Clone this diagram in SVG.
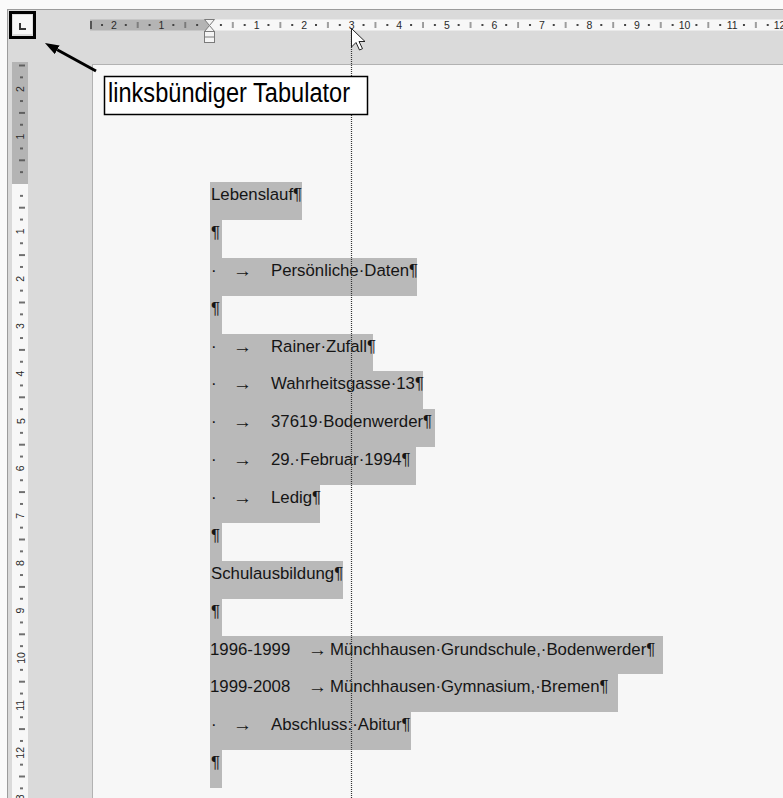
<svg xmlns="http://www.w3.org/2000/svg" width="783" height="798" viewBox="0 0 783 798">
<style>
.doc{font-family:"Liberation Sans",Arial,sans-serif;font-size:16.8px;fill:#151515}
.arr{font-family:"Liberation Sans",Arial,sans-serif;font-size:19px;font-weight:bold;fill:#151515}
.hl{fill:#b9b9b9}
.rnum{font-family:"Liberation Sans",Arial,sans-serif;font-size:10.5px;fill:#2a2a2a;text-anchor:middle}
.lbl{font-family:"Liberation Sans",Arial,sans-serif;font-size:27px;fill:#000}
</style>
<defs>
<pattern id="hticks" patternUnits="userSpaceOnUse" x="209" y="0" width="47.55" height="798">
<rect x="10.9" y="24" width="2" height="2" fill="#444"/>
<rect x="23.3" y="22" width="1" height="6" fill="#444"/>
<rect x="34.7" y="24" width="2" height="2" fill="#444"/>
</pattern>
<pattern id="vticks" patternUnits="userSpaceOnUse" x="0" y="184" width="783" height="47.4">
<rect x="20" y="11.1" width="3" height="1.5" fill="#444"/>
<rect x="19" y="22.95" width="6" height="1.5" fill="#444"/>
<rect x="20" y="34.8" width="3" height="1.5" fill="#444"/>
</pattern>
<marker id="ah" markerUnits="userSpaceOnUse" markerWidth="16" markerHeight="12" refX="0" refY="5" orient="auto">
<path d="M0,0 L14,5 L0,10 z" fill="#000"/>
</marker>
</defs>

<!-- window background -->
<rect x="0" y="0" width="783" height="798" fill="#fafafa"/>
<rect x="8" y="10" width="775" height="788" fill="#dadada"/>
<line x1="7" y1="9.5" x2="783" y2="9.5" stroke="#9c9c9c"/>
<line x1="7.5" y1="9" x2="7.5" y2="798" stroke="#9c9c9c"/>
<rect x="93" y="65" width="690" height="733" fill="#f7f7f7"/>
<line x1="92" y1="64.5" x2="783" y2="64.5" stroke="#b2b2b2"/>
<line x1="92.5" y1="64" x2="92.5" y2="798" stroke="#b2b2b2"/>

<!-- horizontal ruler -->
<g id="ruler-h">
<rect x="90" y="19.5" width="119" height="11" fill="#b4b4b4"/>
<rect x="209" y="19.5" width="574" height="11" fill="#f7f7f7"/>
<rect x="90" y="19" width="693" height="12" fill="url(#hticks)"/>
<rect x="90" y="21" width="2" height="8" fill="#555"/>
<text class="rnum" x="113.9" y="29">2</text>
<text class="rnum" x="161.5" y="29">1</text>
<text class="rnum" x="256.6" y="29">1</text>
<text class="rnum" x="304.1" y="29">2</text>
<text class="rnum" x="351.7" y="29">3</text>
<text class="rnum" x="399.2" y="29">4</text>
<text class="rnum" x="446.8" y="29">5</text>
<text class="rnum" x="494.3" y="29">6</text>
<text class="rnum" x="541.9" y="29">7</text>
<text class="rnum" x="589.4" y="29">8</text>
<text class="rnum" x="637" y="29">9</text>
<text class="rnum" x="684.5" y="29">10</text>
<text class="rnum" x="732.1" y="29">11</text>
<text class="rnum" x="779.6" y="29">12</text>
<g id="indent-marker" fill="#f4f4f4" stroke="#7a7a7a" stroke-width="1">
<polygon points="204.5,19.5 214.5,19.5 209.5,25.5"/>
<polygon points="209.5,25.5 204.5,31.5 214.5,31.5"/>
<rect x="204.5" y="31.5" width="10" height="11"/>
<line x1="204.5" y1="37" x2="214.5" y2="37"/>
</g>
</g>

<!-- vertical ruler -->
<g id="ruler-v">
<rect x="12" y="62" width="16" height="122" fill="#b4b4b4"/>
<rect x="12" y="184" width="16" height="614" fill="#f7f7f7"/>
<rect x="12" y="62" width="16" height="736" fill="url(#vticks)"/>
<g class="rnum">
<text x="21" y="92.7" transform="rotate(-90 21 89.2)">2</text>
<text x="21" y="140.1" transform="rotate(-90 21 136.6)">1</text>
<text x="21" y="234.9" transform="rotate(-90 21 231.4)">1</text>
<text x="21" y="282.3" transform="rotate(-90 21 278.8)">2</text>
<text x="21" y="329.7" transform="rotate(-90 21 326.2)">3</text>
<text x="21" y="377.1" transform="rotate(-90 21 373.6)">4</text>
<text x="21" y="424.5" transform="rotate(-90 21 421)">5</text>
<text x="21" y="471.9" transform="rotate(-90 21 468.4)">6</text>
<text x="21" y="519.3" transform="rotate(-90 21 515.8)">7</text>
<text x="21" y="566.7" transform="rotate(-90 21 563.2)">8</text>
<text x="21" y="614.1" transform="rotate(-90 21 610.6)">9</text>
<text x="21" y="661.5" transform="rotate(-90 21 658)">10</text>
<text x="21" y="708.9" transform="rotate(-90 21 705.4)">11</text>
<text x="21" y="756.3" transform="rotate(-90 21 752.8)">12</text>
<text x="21" y="803.7" transform="rotate(-90 21 800.2)">13</text>
</g>
</g>

<!-- tab selector -->
<g id="tab-selector">
<rect x="10.5" y="12.5" width="24" height="25" fill="#dcdcdc" stroke="#000" stroke-width="3"/>
<rect x="13" y="15" width="19" height="19" fill="#f6f6f6"/>
<polyline points="20,23 20,29 26,29" fill="none" stroke="#333" stroke-width="2"/>
</g>

<!-- document highlights -->
<g id="highlights">
<rect class="hl" x="210" y="182" width="92" height="38"/>
<rect class="hl" x="210" y="220" width="12" height="38"/>
<rect class="hl" x="210" y="258" width="207" height="38"/>
<rect class="hl" x="210" y="296" width="12" height="38"/>
<rect class="hl" x="210" y="334" width="163" height="37"/>
<rect class="hl" x="210" y="371" width="213" height="38"/>
<rect class="hl" x="210" y="409" width="225" height="38"/>
<rect class="hl" x="210" y="447" width="206" height="38"/>
<rect class="hl" x="210" y="485" width="110" height="38"/>
<rect class="hl" x="210" y="523" width="12" height="38"/>
<rect class="hl" x="210" y="561" width="133" height="38"/>
<rect class="hl" x="210" y="599" width="12" height="37"/>
<rect class="hl" x="210" y="636" width="453" height="38"/>
<rect class="hl" x="210" y="674" width="408" height="38"/>
<rect class="hl" x="210" y="712" width="201" height="38"/>
<rect class="hl" x="210" y="750" width="12" height="38"/>
</g>

<!-- document text -->
<g id="line-01"><text class="doc" x="211" y="200">Lebenslauf¶</text></g>
<g id="line-02"><text class="doc" x="211" y="238">¶</text></g>
<g id="line-03"><text class="doc" x="211" y="276">·</text><text class="arr" x="233" y="277">→</text><text class="doc" x="271" y="276">Persönliche·Daten¶</text></g>
<g id="line-04"><text class="doc" x="211" y="314">¶</text></g>
<g id="line-05"><text class="doc" x="211" y="351.5">·</text><text class="arr" x="233" y="352.5">→</text><text class="doc" x="271" y="351.5">Rainer·Zufall¶</text></g>
<g id="line-06"><text class="doc" x="211" y="389">·</text><text class="arr" x="233" y="390">→</text><text class="doc" x="271" y="389">Wahrheitsgasse·13¶</text></g>
<g id="line-07"><text class="doc" x="211" y="427">·</text><text class="arr" x="233" y="428">→</text><text class="doc" x="271" y="427">37619·Bodenwerder¶</text></g>
<g id="line-08"><text class="doc" x="211" y="465">·</text><text class="arr" x="233" y="466">→</text><text class="doc" x="271" y="465">29.·Februar·1994¶</text></g>
<g id="line-09"><text class="doc" x="211" y="503">·</text><text class="arr" x="233" y="504">→</text><text class="doc" x="271" y="503">Ledig¶</text></g>
<g id="line-10"><text class="doc" x="211" y="541">¶</text></g>
<g id="line-11"><text class="doc" x="211" y="579">Schulausbildung¶</text></g>
<g id="line-12"><text class="doc" x="211" y="617">¶</text></g>
<g id="line-13"><text class="doc" x="210" y="654.5">1996-1999</text><text class="arr" x="308" y="655.5">→</text><text class="doc" x="330" y="654.5">Münchhausen·Grundschule,·Bodenwerder¶</text></g>
<g id="line-14"><text class="doc" x="210" y="692">1999-2008</text><text class="arr" x="308" y="693">→</text><text class="doc" x="330" y="692">Münchhausen·Gymnasium,·Bremen¶</text></g>
<g id="line-15"><text class="doc" x="211" y="730">·</text><text class="arr" x="233" y="731">→</text><text class="doc" x="271" y="730">Abschluss:·Abitur¶</text></g>
<g id="line-16"><text class="doc" x="211" y="768">¶</text></g>

<!-- tab guide line and cursor -->
<line x1="351.5" y1="31" x2="351.5" y2="798" stroke="#333" stroke-width="1.2" stroke-dasharray="1 1"/>
<g id="cursor">
<polygon points="351.5,28.5 351.5,47 356,42.5 359.5,50 362.5,48.7 359,41.5 365,41.5" fill="#fff" stroke="#222" stroke-width="1" stroke-linejoin="round"/>
</g>

<!-- label -->
<g id="label-tab">
<rect x="104.5" y="76.5" width="263" height="38" fill="#fff" stroke="#000" stroke-width="1.5"/>
<text class="lbl" x="108" y="101.5" textLength="242" lengthAdjust="spacingAndGlyphs">linksbündiger Tabulator</text>
</g>

<!-- connectors -->
<g id="connectors">
<line x1="96" y1="71" x2="57.2" y2="49.8" stroke="#000" stroke-width="3" marker-end="url(#ah)"/>
</g>
</svg>
